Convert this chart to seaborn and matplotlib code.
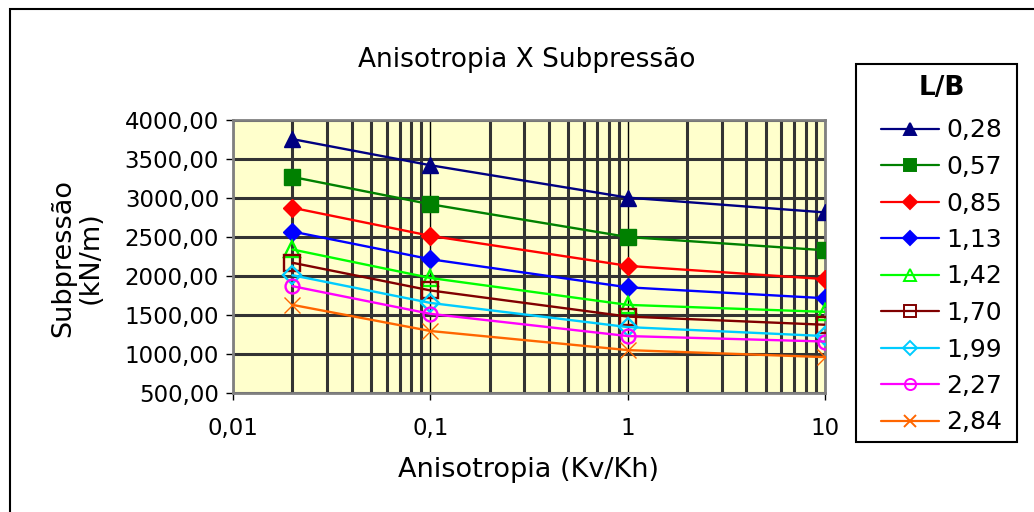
import numpy as np
import pandas as pd
import matplotlib
matplotlib.use("Agg")
import matplotlib.pyplot as plt
from matplotlib.lines import Line2D
from matplotlib.patches import Rectangle
from matplotlib.ticker import FixedLocator, LogLocator, NullFormatter
import seaborn as sns

# Data
anisotropia = [0.02, 0.1, 1, 10]
lb_labels = ["0,28", "0,57", "0,85", "1,13", "1,42", "1,70", "1,99", "2,27", "2,84"]
s028 = [3755, 3420, 3005, 2815]
s057 = [3270, 2920, 2500, 2330]
s085 = [2875, 2515, 2130, 1960]
s113 = [2570, 2215, 1855, 1715]
s142 = [2340, 1975, 1630, 1540]
s170 = [2170, 1815, 1480, 1375]
s199 = [2010, 1655, 1345, 1230]
s227 = [1870, 1515, 1230, 1160]
s284 = [1630, 1295, 1050, 960]
series = [s028, s057, s085, s113, s142, s170, s199, s227, s284]

colors = ["#000080", "#008000", "#FF0000", "#0000FF", "#00FF00",
          "#800000", "#00CCFF", "#FF00FF", "#FF6600"]
markers = ["^", "s", "D", "D", "^", "s", "D", "o", "x"]
filled = [True, True, True, True, False, False, False, False, True]

sns.set_theme(style="white")
plt.rcParams['font.family'] = ['DejaVu Sans']
plt.rcParams['text.color'] = 'black'
plt.rcParams['xtick.color'] = 'black'
plt.rcParams['ytick.color'] = 'black'
plt.rcParams['axes.labelcolor'] = 'black'

fig = plt.figure(figsize=(10.34, 5.12), dpi=100)
ax = fig.add_axes([233 / 1034, 1 - 393 / 512, (825 - 233) / 1034, (393 - 120) / 512])
ax.set_facecolor("#FFFFCC")

handles = []
for vals, lab, c, m, f in zip(series, lb_labels, colors, markers, filled):
    df = pd.DataFrame({"x": anisotropia, "y": vals})
    msize = 11 if m != "D" else 9.5
    if m == "o":
        msize = 10
    sns.lineplot(data=df, x="x", y="y", ax=ax, color=c, lw=1.7,
                 marker=m, markersize=msize,
                 markerfacecolor=c if f else "none",
                 markeredgecolor=c, markeredgewidth=1.7 if not f else 1.0,
                 zorder=5)
    handles.append(Line2D([0], [0], color=c, lw=1.6, marker=m,
                          markersize=msize * 0.8,
                          markerfacecolor=c if f else "none",
                          markeredgecolor=c, markeredgewidth=1.4,
                          label=lab))

ax.set_xscale("log")
ax.set_xlim(0.01, 10)
ax.set_ylim(500, 4000)
ax.set_yticks(np.arange(500, 4001, 500))
ax.set_yticklabels([f"{v},00" for v in range(500, 4001, 500)])
ax.xaxis.set_major_locator(FixedLocator([0.01, 0.1, 1, 10]))
ax.set_xticklabels(["0,01", "0,1", "1", "10"])
ax.xaxis.set_minor_locator(LogLocator(base=10, subs=np.arange(2, 10)))
ax.xaxis.set_minor_formatter(NullFormatter())

ax.grid(True, which="major", axis="y", color="#333333", lw=2.2)
ax.grid(True, which="minor", axis="x", color="#333333", lw=2.2)
ax.grid(True, which="major", axis="x", color="black", lw=1.0)
ax.set_axisbelow(True)

ax.tick_params(axis="both", which="major", direction="out", length=5,
               width=1, color="black", labelsize=16.5, bottom=True, left=True)
ax.tick_params(axis="x", which="minor", bottom=False)
ax.tick_params(axis="x", pad=12)
ax.tick_params(axis="y", pad=5)
for sp in ax.spines.values():
    sp.set_color("#808080")
    sp.set_linewidth(2)

ax.set_xlabel("")
ax.set_ylabel("")
fig.text(528 / 1034, 1 - 470 / 512, "Anisotropia (Kv/Kh)", ha="center",
         va="center", fontsize=19.5)
fig.text(77 / 1034, 1 - 258 / 512, "Subpressão\n(kN/m)", ha="center",
         va="center", rotation=90, fontsize=19.5, linespacing=1.05)
fig.text(527 / 1034, 1 - 60 / 512, "Anisotropia X Subpressão", ha="center",
         va="center", fontsize=19)

# outer chart border (left and top only visible)
fig.patches.append(Rectangle((10 / 1034, -0.1), 1.2, 1 - 9 / 512 + 0.1,
                             transform=fig.transFigure, fill=False,
                             edgecolor="black", lw=1.5))

# legend box drawn separately so its padding matches the reference
fig.patches.append(Rectangle((856 / 1034, 1 - 442 / 512), (1017 - 856) / 1034,
                             (442 - 64) / 512, transform=fig.transFigure,
                             facecolor="white", edgecolor="black", lw=1.5,
                             zorder=0))
leg = fig.legend(handles=handles, loc="upper left",
                 bbox_to_anchor=(881 / 1034, 1 - 75 / 512),
                 title="L/B", fontsize=18,
                 title_fontproperties={"weight": "bold", "size": 19},
                 frameon=False, handlelength=2.3, handletextpad=0.3,
                 labelspacing=0.5, borderpad=0, borderaxespad=0)
leg._legend_box.sep = 12.6
leg._legend_box.align = "center"

fig.savefig("out.png", dpi=100)
